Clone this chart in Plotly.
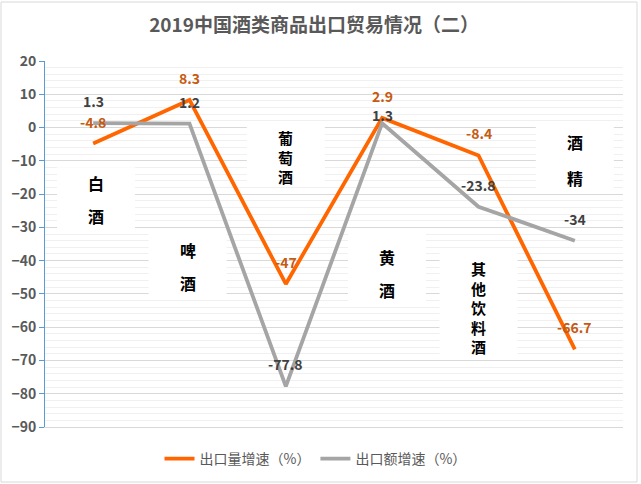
import plotly.graph_objects as go

# 数据
categories = ["白酒", "啤酒", "葡萄酒", "黄酒", "其他饮料酒", "酒精"]
volume_growth = [-4.8, 8.3, -47, 2.9, -8.4, -66.7]   # 出口量增速（%）
value_growth = [1.3, 1.2, -77.8, 1.3, -23.8, -34]     # 出口额增速（%）
y_ticks = [20, 10, 0, -10, -20, -30, -40, -50, -60, -70, -80, -90]

ORANGE = "#FF6600"
GREY = "#A5A5A5"
FONT = "Noto Sans CJK SC"

# 白底标签框: (x 偏移, y 上, y 下, 中心 y, 字距 px; None = 紧排)
boxes = [
    (0.03, -11.9, -31.7, -21.6, 33),
    (-0.02, -31.7, -51.8, -41.8, 33),
    (0.0, 0.8, -17.6, -8.9, None),
    (0.05, -31.4, -52.4, -43.9, 33),
    (0.0, -37.4, -68.4, -54.2, None),
    (0.0, 0.2, -18.8, -9.8, 36),
]

fig = go.Figure()
fig.add_trace(go.Scatter(x=list(range(len(categories))), y=volume_growth,
                         name="出口量增速（%）", mode="lines",
                         line=dict(color=ORANGE, width=3.8)))
fig.add_trace(go.Scatter(x=list(range(len(categories))), y=value_growth,
                         name="出口额增速（%）", mode="lines",
                         line=dict(color=GREY, width=3.8)))

box_font = dict(family=FONT, size=16, color="black", weight="bold")
shapes = []
annotations = []
for i, (name, (dx, y0, y1, yc, step)) in enumerate(zip(categories, boxes)):
    shapes.append(dict(type="rect", xref="x", yref="y", layer="between",
                       x0=i + dx - 0.405, x1=i + dx + 0.405, y0=y1, y1=y0,
                       fillcolor="white", line=dict(width=0)))
    if step is None:
        annotations.append(dict(x=i + dx, y=yc, text="<br>".join(name),
                                showarrow=False, font={**box_font, "size": 15}))
        continue
    n = len(name)
    for k, ch in enumerate(name):
        annotations.append(dict(x=i + dx, y=yc, text=ch, showarrow=False,
                                yshift=((n - 1) / 2 - k) * step, font=box_font))

# 数据标签
for i in range(len(categories)):
    annotations.append(dict(x=i, y=volume_growth[i], text=f"{volume_growth[i]:g}",
                            showarrow=False, yshift=22,
                            font=dict(family=FONT, size=14, color="#C55A11",
                                      weight="bold")))
    annotations.append(dict(x=i, y=value_growth[i], text=f"{value_growth[i]:g}",
                            showarrow=False, yshift=8 if i == 3 else 22,
                            font=dict(family=FONT, size=14, color="#404040",
                                      weight="bold")))

# 外边框
shapes.append(dict(type="rect", xref="paper", yref="paper", layer="below",
                   x0=-44 / 578, x1=1 + 14 / 578, y0=-55 / 366, y1=1 + 59 / 366,
                   line=dict(color="#D9D9D9", width=1), fillcolor="rgba(0,0,0,0)"))

fig.update_layout(
    width=641, height=484,
    margin=dict(l=45, r=18, t=61, b=57, autoexpand=False),
    paper_bgcolor="white", plot_bgcolor="white",
    font=dict(family=FONT, color="#595959"),
    title=dict(text="2019中国酒类商品出口贸易情况（二）", x=0.49, xref="container",
               y=1 - 25 / 484, yanchor="middle",
               font=dict(family=FONT, size=19, color="#595959", weight="bold")),
    showlegend=True,
    legend=dict(orientation="h", x=0.468, xanchor="center", y=-32 / 366, yanchor="middle",
                font=dict(family=FONT, size=14, color="#595959"), itemwidth=30),
    shapes=shapes, annotations=annotations,
)
fig.update_xaxes(range=[-0.5, len(categories) - 0.5], showgrid=False, zeroline=False,
                 showticklabels=False, ticks="", showline=True, linecolor="#D9D9D9",
                 linewidth=1, automargin=False)
fig.update_yaxes(range=[-90, 20], tickvals=y_ticks, showgrid=True, gridcolor="#D9D9D9",
                 gridwidth=1, zeroline=False, showline=True, linecolor="#5B9BD5",
                 linewidth=1, ticks="outside", ticklen=5, tickcolor="#5B9BD5",
                 automargin=False,
                 tickfont=dict(family=FONT, size=14, color="#595959", weight="bold"),
                 minor=dict(dtick=2, showgrid=True, gridcolor="#F0F0F0", gridwidth=1))

fig.write_html("out.html", config={"displayModeBar": False},
               post_script="document.body.style.margin = '0';")
